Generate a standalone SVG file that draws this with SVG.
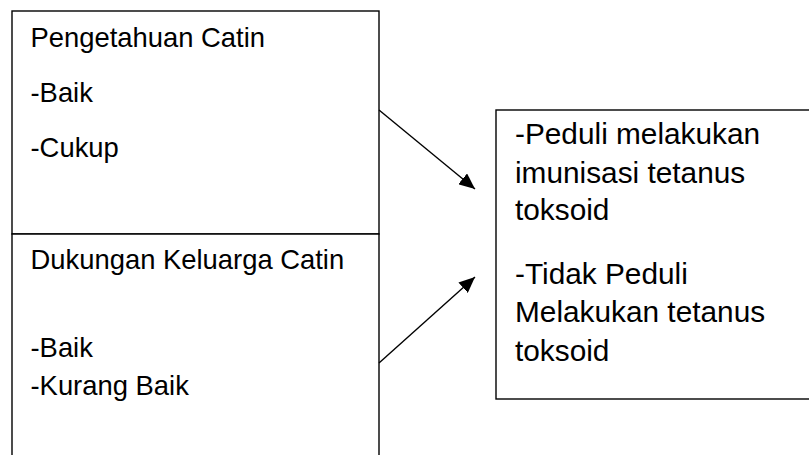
<svg xmlns="http://www.w3.org/2000/svg" width="809" height="455" viewBox="0 0 809 455">
  <style>
    .box { fill: #ffffff; stroke: #000000; stroke-width: 1.4; }
    .lbl { font-family: "Liberation Sans", Arial, sans-serif; fill: #000000; }
    .left { font-size: 27.4px; }
    .right { font-size: 29.8px; }
    .conn { stroke: #000000; stroke-width: 1.4; fill: none; }
  </style>
  <defs>
    <marker id="arrow" markerUnits="userSpaceOnUse" markerWidth="18" markerHeight="14" refX="16" refY="7" orient="auto">
      <path d="M0,0 L16,7 L0,14 Z" fill="#000000"/>
    </marker>
  </defs>
  <rect width="809" height="455" fill="#ffffff"/>

  <g id="pengetahuan">
    <rect class="box" x="12" y="11" width="367" height="223"/>
    <text class="lbl left" x="30.5" y="46.5">Pengetahuan Catin</text>
    <text class="lbl left" x="30.5" y="101.5">-Baik</text>
    <text class="lbl left" x="30.5" y="157">-Cukup</text>
  </g>

  <g id="dukungan">
    <path class="box" d="M12,460 L12,234 L379,234 L379,460"/>
    <text class="lbl left" x="30.5" y="269">Dukungan Keluarga Catin</text>
    <text class="lbl left" x="30.5" y="357">-Baik</text>
    <text class="lbl left" x="30.5" y="395">-Kurang Baik</text>
  </g>

  <g id="kepedulian">
    <rect class="box" x="496" y="110" width="320" height="289"/>
    <text class="lbl right" x="515" y="144">-Peduli melakukan</text>
    <text class="lbl right" x="515" y="183">imunisasi tetanus</text>
    <text class="lbl right" x="515" y="220">toksoid</text>
    <text class="lbl right" x="515" y="284">-Tidak Peduli</text>
    <text class="lbl right" x="515" y="322">Melakukan tetanus</text>
    <text class="lbl right" x="515" y="361">toksoid</text>
  </g>

  <g id="connectors">
    <line class="conn" x1="379" y1="110" x2="475" y2="189" marker-end="url(#arrow)"/>
    <line class="conn" x1="379" y1="363" x2="475" y2="277" marker-end="url(#arrow)"/>
  </g>
</svg>
